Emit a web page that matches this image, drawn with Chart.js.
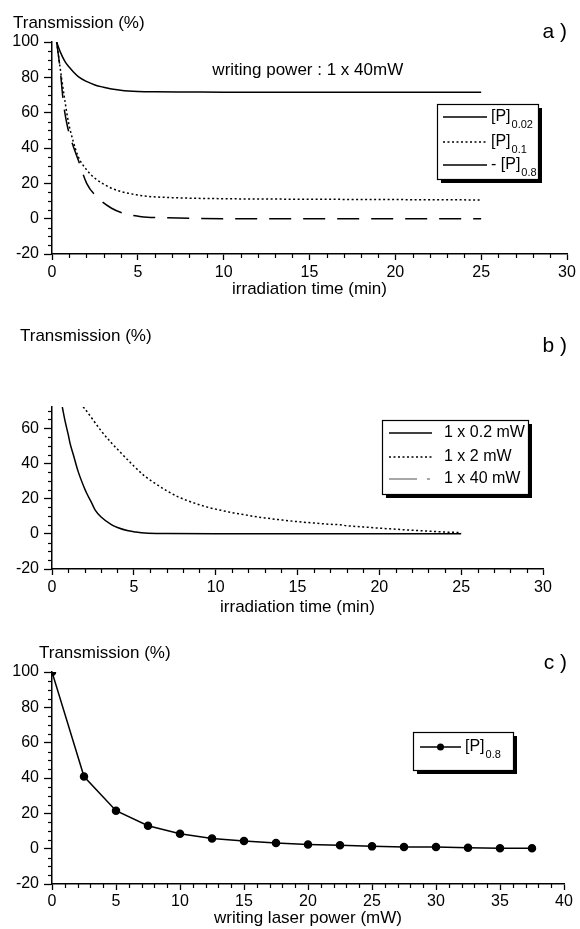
<!DOCTYPE html>
<html>
<head>
<meta charset="utf-8">
<script src="https://cdn.jsdelivr.net/npm/chart.js@4.4.1/dist/chart.umd.min.js"></script>
<style>
  html, body { margin: 0; padding: 0; background: #fff; }
  #page { position: relative; width: 580px; height: 929px; overflow: hidden; background: #fff; }
  canvas { position: absolute; left: 0; }
</style>
</head>
<body>
<div id="page">
  <canvas id="chartA" width="580" height="310" style="top:0px"></canvas>
  <canvas id="chartB" width="580" height="310" style="top:310px"></canvas>
  <canvas id="chartC" width="580" height="309" style="top:620px"></canvas>
</div>
<script>
// ---- panel a : writing power 1 x 40mW, three concentrations ----
const timeP002 = [0.27, 0.5, 0.76, 1, 1.25, 1.53, 2, 2.5, 3, 3.47, 4, 4.44, 5, 6, 8, 10, 15, 20, 25];
const valP002  = [100, 94, 88.9, 85.8, 83, 80.4, 77.7, 75.7, 74.4, 73.4, 72.7, 72.3, 72, 71.8, 71.7, 71.6, 71.6, 71.6, 71.6];
const timeP01  = [0.27, 0.56, 0.76, 0.95, 1.24, 1.53, 2.02, 2.5, 3, 3.47, 4, 4.44, 5.4, 7, 10, 15, 20, 25];
const valP01   = [100, 79.4, 66.2, 55, 43.6, 35.1, 27.6, 22.9, 19.6, 17.2, 15.4, 14.4, 12.8, 11.9, 11.3, 11, 10.8, 10.6];
const timeP08  = [0.27, 0.47, 0.66, 0.86, 1.15, 1.53, 2.02, 2.7, 3.47, 4.15, 5.2, 6.4, 8, 10, 15, 20, 25];
const valP08   = [100, 85, 66, 54, 43.6, 33.2, 20, 11.5, 5.9, 3.1, 1.1, 0.6, 0.2, 0, 0, 0, 0];

// ---- panel b : [P]0.8, three writing powers ----
const time02mW = [0.63, 0.8, 1, 1.1, 1.3, 1.6, 2, 2.12, 2.4, 2.63, 3, 3.65, 4, 4.66, 5, 5.68, 7, 10, 15, 20, 25];
const val02mW  = [72, 64, 56, 51.5, 45, 35.3, 25.5, 23, 18, 13.6, 9.5, 5.1, 3.6, 1.7, 1.2, 0.4, 0.1, 0, 0, 0, 0];
const time2mW  = [1.9, 2, 3, 3.65, 4, 5, 5.7, 6, 7, 7.7, 8, 9, 9.75, 10, 11, 11.8, 12, 13, 14, 15, 16, 17, 17.6, 18, 19, 20, 21, 22, 23, 24, 25];
const val2mW   = [72, 71, 58.5, 51.4, 48, 38.5, 32.5, 30.5, 24.5, 21, 19.8, 16.5, 14.5, 14, 12, 10.8, 10.4, 9, 7.9, 6.9, 6.1, 5.4, 5.1, 4.6, 3.9, 3.2, 2.6, 2, 1.5, 1, 0.7];

// ---- panel c : transmission vs writing laser power ----
const powerMW = [0, 2.5, 5, 7.5, 10, 12.5, 15, 17.5, 20, 22.5, 25, 27.5, 30, 32.5, 35, 37.5];
const valPower = [100, 40.8, 21.5, 13, 8.5, 5.8, 4.3, 3.2, 2.4, 1.9, 1.3, 1, 1, 0.5, 0.3, 0.2];

const labelsA = [["[P]", "0.02"], ["[P]", "0.1"], ["- [P]", "0.8"]];
const labelsB = [["1 x 0.2 mW", ""], ["1 x 2 mW", ""], ["1 x 40 mW", ""]];
const labelsC = [["[P]", "0.8"]];

const FONT = "'Liberation Sans', Arial, Helvetica, sans-serif";
const toPoints = (xs, ys) => xs.map((x, i) => ({ x: x, y: ys[i] }));

// minor ticks, captions and the boxed legend with its drop shadow
const figureDecor = {
  id: "figureDecor",
  afterDraw(chart, args, opts) {
    const ctx = chart.ctx;
    const area = chart.chartArea;
    const xs = chart.scales.x, ys = chart.scales.y;
    ctx.save();
    ctx.strokeStyle = "#000";
    ctx.lineWidth = 1.2;
    for (let v = xs.min; v <= xs.max + 1e-9; v += opts.xMinor) {
      if (Math.abs(v / opts.xMajor - Math.round(v / opts.xMajor)) < 1e-6) continue;
      const px = Math.round(xs.getPixelForValue(v)) + 0.5;
      ctx.beginPath(); ctx.moveTo(px, area.bottom); ctx.lineTo(px, area.bottom + 4); ctx.stroke();
    }
    for (let v = Math.ceil(ys.min / opts.yMinor) * opts.yMinor; v <= ys.max + 1e-9; v += opts.yMinor) {
      if (Math.abs(v / opts.yMajor - Math.round(v / opts.yMajor)) < 1e-6) continue;
      const py = Math.round(ys.getPixelForValue(v)) + 0.5;
      ctx.beginPath(); ctx.moveTo(area.left, py); ctx.lineTo(area.left - 4, py); ctx.stroke();
    }

    ctx.fillStyle = "#000";
    ctx.textBaseline = "middle";
    ctx.textAlign = "left";
    ctx.font = "17px " + FONT;
    ctx.fillText("Transmission (%)", opts.captionX, opts.captionY);
    ctx.font = "21px " + FONT;
    ctx.textAlign = "right";
    ctx.fillText(opts.panel, 567, opts.panelY);

    if (opts.note) {
      ctx.font = "17px " + FONT;
      ctx.textAlign = "center";
      ctx.fillText(opts.note.text, xs.getPixelForValue(opts.note.x), ys.getPixelForValue(opts.note.y));
    }

    const lg = opts.legend;
    ctx.fillStyle = "#000";
    ctx.fillRect(lg.x + 4, lg.y + 4, lg.w, lg.h);
    ctx.fillStyle = "#fff";
    ctx.fillRect(lg.x, lg.y, lg.w, lg.h);
    ctx.lineWidth = 1.2;
    ctx.strokeRect(lg.x + 0.5, lg.y + 0.5, lg.w, lg.h);
    chart.data.datasets.forEach((ds, i) => {
      if (i >= lg.rows.length) return;
      const ry = lg.y + lg.rows[i];
      ctx.save();
      ctx.strokeStyle = ds.legendColor || ds.borderColor;
      ctx.lineWidth = ds.borderWidth;
      ctx.setLineDash(ds.legendDash || ds.borderDash || []);
      ctx.beginPath(); ctx.moveTo(lg.x1, ry); ctx.lineTo(lg.x2, ry); ctx.stroke();
      ctx.restore();
      if (ds.pointRadius > 0) {
        ctx.beginPath();
        ctx.arc((lg.x1 + lg.x2) / 2, ry, ds.pointRadius, 0, Math.PI * 2);
        ctx.fillStyle = "#000"; ctx.fill();
      }
      const [main, sub] = ds.legendText;
      ctx.fillStyle = "#000";
      ctx.textAlign = "left";
      ctx.font = "16px " + FONT;
      ctx.fillText(main, lg.tx, ry);
      if (sub) {
        const w = ctx.measureText(main).width;
        ctx.font = "11px " + FONT;
        ctx.fillText(sub, lg.tx + w + 1, ry + 8);
      }
    });
    ctx.restore();
  }
};

function axisX(max, title, height, titlePad, labelPad) {
  return {
    type: "linear", min: 0, max: max,
    ticks: { stepSize: 5, color: "#000", font: { family: FONT, size: 16 }, padding: labelPad, maxRotation: 0 },
    grid: { drawOnChartArea: false, drawTicks: true, tickLength: 6, tickColor: "#000", tickWidth: 1.3 },
    border: { color: "#000", width: 1.5 },
    title: { display: true, text: title, color: "#000", font: { family: FONT, size: 17 }, padding: { top: 0, bottom: titlePad } },
    afterFit: (s) => { s.height = height; }
  };
}

function axisY(max) {
  return {
    min: -20, max: max,
    ticks: { stepSize: 20, includeBounds: false, color: "#000", font: { family: FONT, size: 16 }, padding: 5 },
    grid: { drawOnChartArea: false, drawTicks: true, tickLength: 8, tickColor: "#000", tickWidth: 1.3 },
    border: { color: "#000", width: 1.5 },
    afterFit: (s) => { s.width = 52; }
  };
}

function curve(xs, ys, dash, legendText, extra) {
  return Object.assign({
    data: toPoints(xs, ys),
    borderColor: "#000",
    borderWidth: 1.5,
    borderDash: dash,
    pointRadius: 0,
    fill: false,
    cubicInterpolationMode: "monotone",
    legendText: legendText
  }, extra || {});
}

const common = {
  animation: false,
  responsive: false,
  plugins: { legend: { display: false }, tooltip: { enabled: false } }
};

new Chart(document.getElementById("chartA"), {
  type: "line",
  data: {
    datasets: [
      curve(timeP002, valP002, [], labelsA[0]),
      curve(timeP01, valP01, [2, 2.5], labelsA[1]),
      curve(timeP08, valP08, [22, 12], labelsA[2], { legendDash: [] })
    ]
  },
  options: Object.assign({}, common, {
    layout: { padding: { top: 42, right: 13, left: 0, bottom: 0 } },
    scales: { x: axisX(30, "irradiation time (min)", 56, 10, 3), y: axisY(100) },
    plugins: Object.assign({}, common.plugins, {
      figureDecor: {
        xMinor: 1, xMajor: 5, yMinor: 5, yMajor: 20,
        captionX: 13, captionY: 23, panel: "a )", panelY: 32,
        note: { text: "writing power : 1 x 40mW", x: 14.9, y: 84 },
        legend: { x: 437, y: 104, w: 101, h: 75, rows: [13, 38, 61], x1: 443, x2: 487, tx: 491 }
      }
    })
  }),
  plugins: [figureDecor]
});

new Chart(document.getElementById("chartB"), {
  type: "line",
  data: {
    datasets: [
      curve(time02mW, val02mW, [], labelsB[0]),
      curve(time2mW, val2mW, [2, 2.5], labelsB[1]),
      curve([], [], [30, 12, 3, 12], labelsB[2], { borderColor: "#8a8a8a", legendDash: [28, 10, 3, 40] })
    ]
  },
  options: Object.assign({}, common, {
    layout: { padding: { top: 97, right: 37, left: 0, bottom: 0 } },
    scales: { x: axisX(30, "irradiation time (min)", 51, 2, 3), y: axisY(72) },
    plugins: Object.assign({}, common.plugins, {
      figureDecor: {
        xMinor: 1, xMajor: 5, yMinor: 5, yMajor: 20,
        captionX: 20, captionY: 26, panel: "b )", panelY: 36,
        legend: { x: 382, y: 110, w: 146, h: 74, rows: [13, 37, 59], x1: 389, x2: 432, tx: 444 }
      }
    })
  }),
  plugins: [figureDecor]
});

new Chart(document.getElementById("chartC"), {
  type: "line",
  data: {
    datasets: [
      curve(powerMW, valPower, [], labelsC[0], {
        pointRadius: 3.5, pointBackgroundColor: "#000", pointBorderColor: "#000",
        cubicInterpolationMode: "default", tension: 0
      })
    ]
  },
  options: Object.assign({}, common, {
    layout: { padding: { top: 52, right: 16, left: 0, bottom: 0 } },
    scales: { x: axisX(40, "writing laser power (mW)", 45, 0, 2), y: axisY(100) },
    plugins: Object.assign({}, common.plugins, {
      figureDecor: {
        xMinor: 1, xMajor: 5, yMinor: 5, yMajor: 20,
        captionX: 39, captionY: 33, panel: "c )", panelY: 43,
        legend: { x: 413, y: 112, w: 100, h: 38, rows: [15], x1: 420, x2: 461, tx: 465 }
      }
    })
  }),
  plugins: [figureDecor]
});
</script>
</body>
</html>
